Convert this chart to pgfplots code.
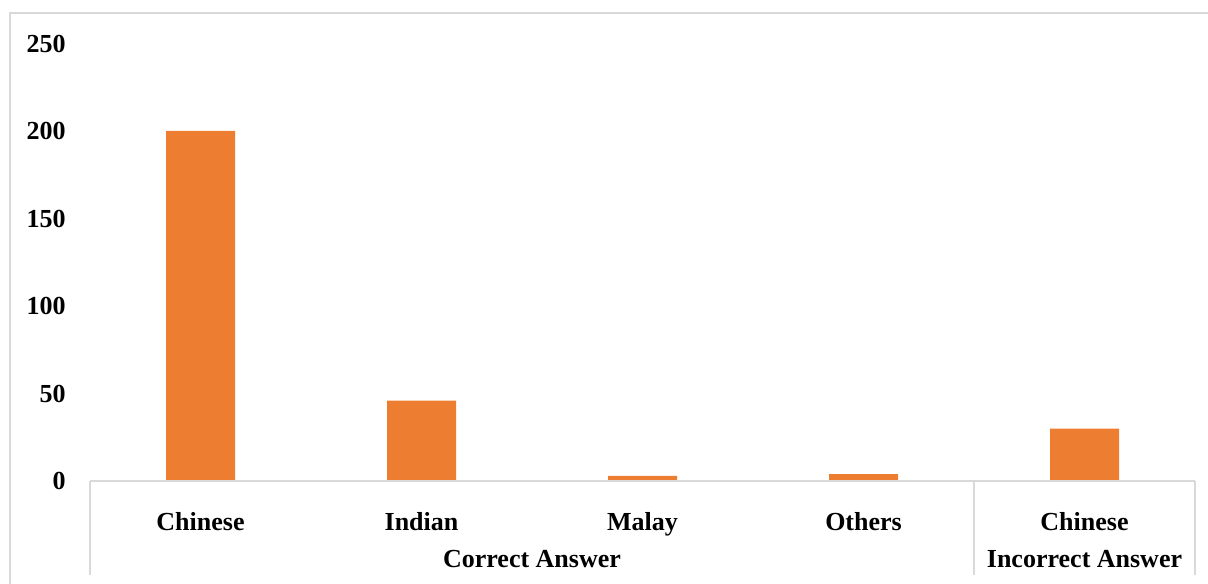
\documentclass[border=0pt]{standalone}
\usepackage{pgfplots}
\pgfplotsset{compat=1.18}
\usepackage{fontspec}
\setmainfont{Liberation Serif}
\definecolor{barorange}{HTML}{ED7D31}
\definecolor{framegray}{HTML}{D9D9D9}
\begin{document}
\begin{tikzpicture}
\begin{axis}[
  at={(0,0)}, anchor=south west,
  scale only axis,
  width=552.5bp, height=218.75bp,
  xmin=-0.5, xmax=4.5, ymin=0, ymax=250,
  ytick={0,50,100,150,200,250},
  xtick=data,
  xticklabels={Chinese,Indian,Malay,Others,Chinese},
  axis line style={draw=none},
  tick style={draw=none},
  /pgf/number format/assume math mode=true,
  yticklabel style={font=\bfseries\fontsize{13bp}{15bp}\selectfont, anchor=east, inner sep=0pt, xshift=-12bp},
  xticklabel style={font=\bfseries\fontsize{13bp}{15bp}\selectfont, anchor=base, inner sep=0pt, yshift=-20.5bp},
  ybar, bar width=34.5bp,
  clip=false,
]
\addplot[fill=barorange, draw=none] coordinates {(0,200) (1,46) (2,3) (3,4) (4,30)};
\end{axis}
% frame, category grouping and baseline, in 0.5bp units measured from the top left
\begin{scope}[x=0.5bp, y=-0.5bp, shift={(-45bp,240.5bp)}]
  \useasboundingbox (0,0) rectangle (1208,584);
  \draw[framegray, line width=1.2bp] (10,584) -- (10,13) -- (1208,13);
  \draw[framegray, line width=1.2bp] (90,481) -- (1195,481);
  \draw[framegray, line width=1.2bp] (90,481) -- (90,575);
  \draw[framegray, line width=1.2bp] (974,481) -- (974,575);
  \draw[framegray, line width=1.2bp] (1195,481) -- (1195,575);
  \node[font=\bfseries\fontsize{13bp}{15bp}\selectfont, anchor=base, inner sep=0pt] at (532,567) {Correct Answer};
  \node[font=\bfseries\fontsize{13bp}{15bp}\selectfont, anchor=base, inner sep=0pt] at (1084.5,567) {Incorrect Answer};
\end{scope}
\end{tikzpicture}
\end{document}
